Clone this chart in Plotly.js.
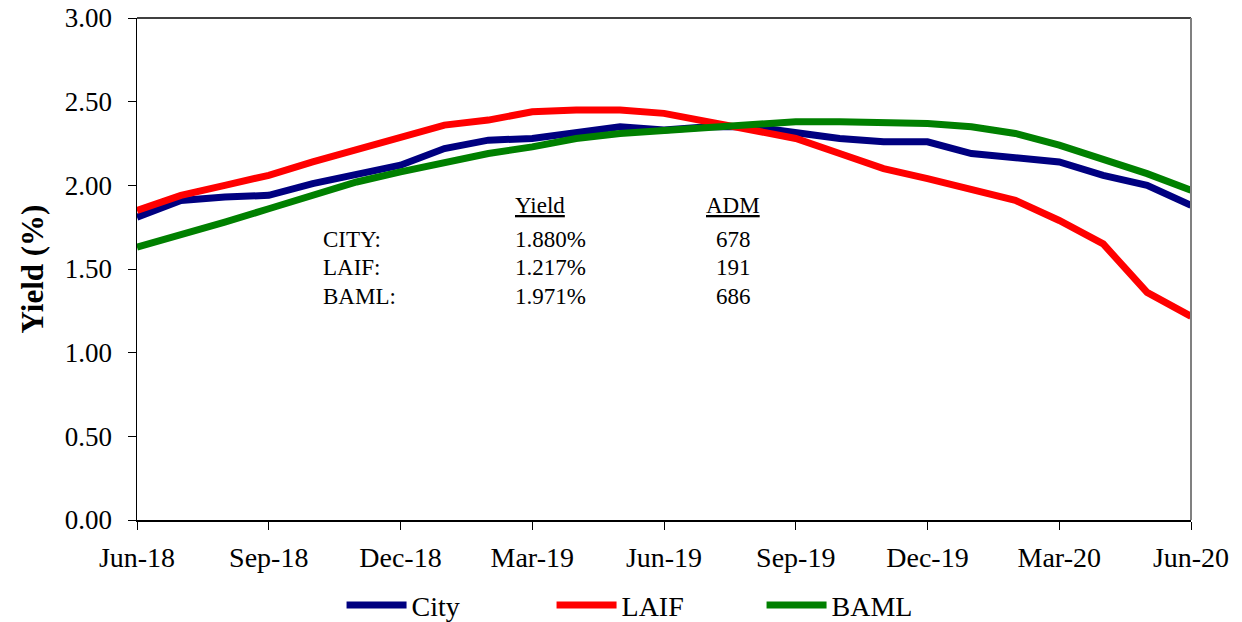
<!DOCTYPE html>
<html>
<head>
<meta charset="utf-8">
<script src="https://cdn.plot.ly/plotly-3.0.1.min.js"></script>
<style>html,body{margin:0;padding:0;background:#fff}#chart{width:1242px;height:622px}</style>
</head>
<body>
<div id="chart"></div>
<script>
const months = ["Jun-18","Jul-18","Aug-18","Sep-18","Oct-18","Nov-18","Dec-18",
  "Jan-19","Feb-19","Mar-19","Apr-19","May-19","Jun-19","Jul-19","Aug-19","Sep-19",
  "Oct-19","Nov-19","Dec-19","Jan-20","Feb-20","Mar-20","Apr-20","May-20","Jun-20"];
const tickLabels = ["Jun-18","Sep-18","Dec-18","Mar-19","Jun-19","Sep-19","Dec-19","Mar-20","Jun-20"];
const city = [1.81,1.91,1.93,1.94,2.01,2.07,2.12,2.22,2.27,2.28,2.32,2.35,2.33,2.35,2.35,2.31,2.28,2.26,2.26,2.19,2.16,2.14,2.06,2.00,1.88];
const laif = [1.85,1.94,2.00,2.06,2.14,2.21,2.29,2.36,2.39,2.44,2.45,2.45,2.43,2.38,2.34,2.28,2.19,2.10,2.04,1.97,1.91,1.79,1.65,1.36,1.217];
const baml = [1.63,1.70,1.78,1.86,1.94,2.02,2.08,2.14,2.19,2.23,2.28,2.31,2.33,2.35,2.37,2.38,2.38,2.38,2.37,2.35,2.31,2.24,2.16,2.07,1.971];
const summaryNames = ["CITY:","LAIF:","BAML:"];
const summaryYield = ["1.880%","1.217%","1.971%"];
const summaryADM = ["678","191","686"];

const font = "'Liberation Serif', 'Times New Roman', serif";
const traces = [
  {name:"City", x:months, y:city, color:"#000080"},
  {name:"LAIF", x:months, y:laif, color:"#FF0000"},
  {name:"BAML", x:months, y:baml, color:"#008000"}
].map(s => ({type:"scatter", mode:"lines", name:s.name, x:s.x, y:s.y,
  line:{color:s.color, width:7}, hoverinfo:"skip"}));

const ann = [];
const rowsY = [0.558, 0.502, 0.446];
ann.push({xref:"paper", yref:"paper", x:0.3567, y:0.6255, xanchor:"left", yanchor:"middle",
  text:"<u>Yield</u>", showarrow:false, font:{family:font, size:23, color:"#000"}});
ann.push({xref:"paper", yref:"paper", x:0.5655, y:0.6255, xanchor:"center", yanchor:"middle",
  text:"<u>ADM</u>", showarrow:false, font:{family:font, size:23, color:"#000"}});
for (let i = 0; i < summaryNames.length; i++) {
  ann.push({xref:"paper", yref:"paper", x:0.1746, y:rowsY[i], xanchor:"left", yanchor:"middle",
    text:summaryNames[i], showarrow:false, font:{family:font, size:23, color:"#000"}});
  ann.push({xref:"paper", yref:"paper", x:0.3567, y:rowsY[i], xanchor:"left", yanchor:"middle",
    text:summaryYield[i], showarrow:false, font:{family:font, size:23, color:"#000"}});
  ann.push({xref:"paper", yref:"paper", x:0.5655, y:rowsY[i], xanchor:"center", yanchor:"middle",
    text:summaryADM[i], showarrow:false, font:{family:font, size:23, color:"#000"}});
}

const layout = {
  width:1242, height:622,
  margin:{l:137, r:51, t:18, b:102, autoexpand:false},
  paper_bgcolor:"#fff", plot_bgcolor:"#fff",
  font:{family:font, color:"#000"},
  showlegend:true,
  legend:{orientation:"h", xref:"container", yref:"container",
    x:0.275, xanchor:"left", y:0.027, yanchor:"middle",
    font:{family:"Liberation Serif", size:28, color:"#000"}, entrywidth:135, entrywidthmode:"pixels",
    itemwidth:60},
  xaxis:{type:"category", categoryorder:"array", categoryarray:months,
    range:[0, months.length-1], tickmode:"array", tickvals:tickLabels, ticktext:tickLabels,
    showgrid:false, zeroline:false, showline:true, linecolor:"#000", linewidth:1.5,
    ticks:"outside", ticklen:8, tickcolor:"#000", tickwidth:1, ticklabelstandoff:4,
    tickfont:{family:font, size:28, color:"#000"}},
  yaxis:{range:[0,3], dtick:0.5, tick0:0, tickformat:".2f",
    showgrid:false, zeroline:false, showline:true, linecolor:"#000", linewidth:1.5,
    ticks:"outside", ticklen:8, tickcolor:"#000", tickwidth:1, ticklabelstandoff:10,
    tickfont:{family:font, size:27, color:"#000"},
    title:{text:"<b>Yield (%)</b>", font:{family:font, size:31, color:"#000"}, standoff:12}},
  shapes:[
    {type:"line", xref:"paper", yref:"paper", x0:0, x1:1, y0:1, y1:1, line:{color:"#000", width:1.5}},
    {type:"line", xref:"paper", yref:"paper", x0:1, x1:1, y0:0, y1:1, line:{color:"#808080", width:2}}
  ],
  annotations:ann
};
Plotly.newPlot("chart", traces, layout, {displayModeBar:false, staticPlot:true});
</script>
</body>
</html>
